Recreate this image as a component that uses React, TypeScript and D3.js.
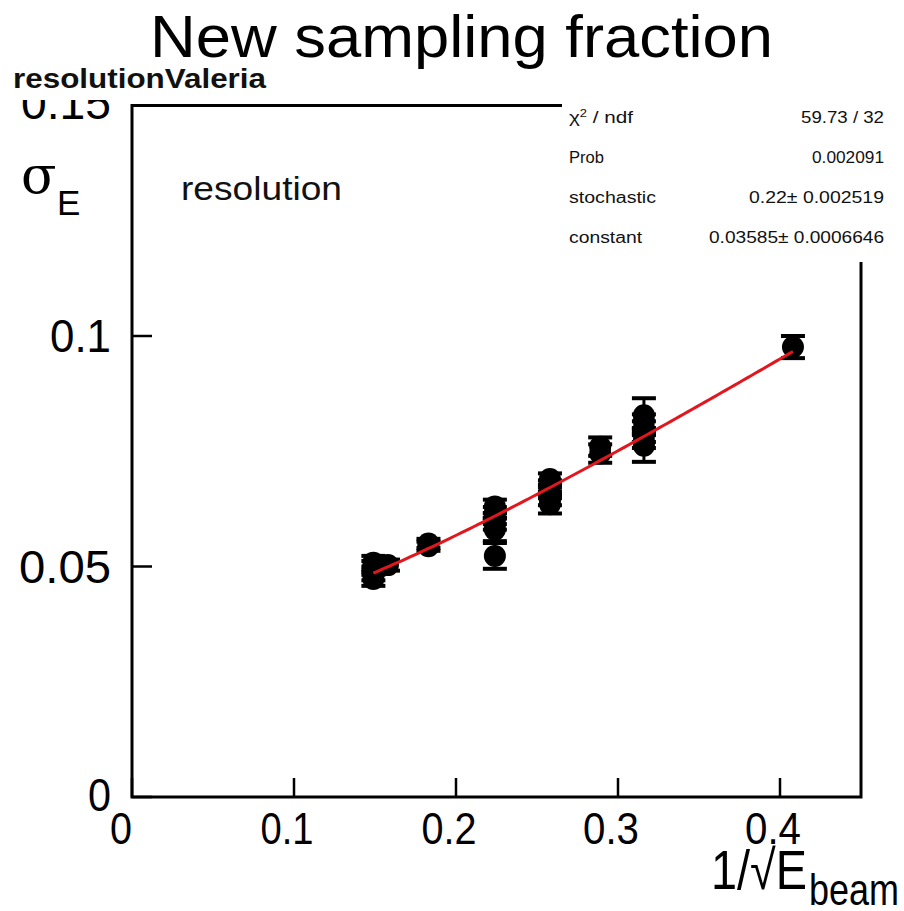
import React from "react";
import * as d3 from "d3";

// ---- data ----
const pointX = [
  0.149, 0.149, 0.149, 0.149, 0.158,
  0.183, 0.183,
  0.224, 0.224, 0.224, 0.224, 0.224, 0.224,
  0.258, 0.258, 0.258, 0.258, 0.258,
  0.289, 0.289,
  0.316, 0.316, 0.316, 0.316, 0.316, 0.316,
  0.408,
];
const pointY = [
  0.0508, 0.0497, 0.0485, 0.0473, 0.0503,
  0.055, 0.0544,
  0.063, 0.0617, 0.0604, 0.0592, 0.058, 0.0523,
  0.069, 0.0675, 0.066, 0.0645, 0.0635,
  0.076, 0.0745,
  0.0828, 0.0815, 0.08, 0.0785, 0.0772, 0.0762,
  0.0976,
];
const pointErr = [
  0.0015, 0.0015, 0.0015, 0.0015, 0.0012,
  0.001, 0.001,
  0.0015, 0.0012, 0.0012, 0.0012, 0.0025, 0.0028,
  0.0012, 0.0012, 0.0012, 0.0012, 0.002,
  0.002, 0.002,
  0.0037, 0.0015, 0.0015, 0.0015, 0.0015, 0.0035,
  0.0024,
];

// fit parameters (from the stats box)
const fitStochastic = 0.22;
const fitConstant = 0.03585;
const fitRange = [0.149, 0.408];

const xTicks = [0, 0.1, 0.2, 0.3, 0.4];
const xTickLabels = ["0", "0.1", "0.2", "0.3", "0.4"];
const yTicks = [0, 0.05, 0.1, 0.15];
const yTickLabels = ["0", "0.05", "0.1", "0.15"];

const statLabels = ["χ² / ndf", "Prob", "stochastic", "constant"];
const statValues = ["59.73 / 32", "0.002091", "0.22± 0.002519", "0.03585± 0.0006646"];

const SANS = "'Liberation Sans', Arial, Helvetica, sans-serif";

export default function App() {
  const W = 904;
  const H = 911;
  const x = d3.scaleLinear().domain([0, 0.45]).range([132, 861]);
  const y = d3.scaleLinear().domain([0, 0.15]).range([797, 105.5]);

  const fitFn = (v: number) => Math.sqrt((fitStochastic * v) ** 2 + fitConstant ** 2);
  const fitXs = d3.range(0, 101).map((i) => fitRange[0] + ((fitRange[1] - fitRange[0]) * i) / 100);
  const fitPath = d3
    .line<number>()
    .x((v) => x(v))
    .y((v) => y(fitFn(v)))(fitXs) as string;

  const xLabelWidths = [22, 53, 55, 56, 56];
  const yLabelWidths = [23, 92, 61, 90];
  const yLabelDy = [14, 16, 16, 13];
  const statLabelW = [64, 35, 87, 73];
  const statValueW = [83, 72, 135, 175];

  return (
    <svg
      width={W}
      height={H}
      style={{ position: "fixed", left: 0, top: 0, background: "#fff" }}
      xmlns="http://www.w3.org/2000/svg"
    >
      <rect x={0} y={0} width={W} height={H} fill="#fff" />

      {/* y tick labels */}
      {yTicks.map((t, i) => (
        <text
          key={"yl" + i}
          x={111}
          y={y(t) + yLabelDy[i]}
          textAnchor="end"
          fontFamily={SANS}
          fontSize={47}
          textLength={yLabelWidths[i]}
          lengthAdjust="spacingAndGlyphs"
          fill="#000"
        >
          {yTickLabels[i]}
        </text>
      ))}
      {/* white band hiding the top of the 0.15 label */}
      <rect x={0} y={0} width={130} height={100} fill="#fff" />

      {/* main title */}
      <text
        x={150}
        y={57}
        fontFamily={SANS}
        fontSize={60}
        textLength={623}
        lengthAdjust="spacingAndGlyphs"
        fill="#000"
      >
        New sampling fraction
      </text>

      {/* histogram name */}
      <text
        x={13}
        y={88}
        fontFamily={SANS}
        fontWeight="bold"
        fontSize={28}
        textLength={253}
        lengthAdjust="spacingAndGlyphs"
        fill="#111"
      >
        resolutionValeria
      </text>

      {/* frame */}
      <rect
        x={x(0)}
        y={y(0.15)}
        width={x(0.45) - x(0)}
        height={y(0) - y(0.15)}
        fill="none"
        stroke="#000"
        strokeWidth={3}
      />

      {/* x ticks */}
      {xTicks.map((t, i) => (
        <line key={"xt" + i} x1={x(t)} x2={x(t)} y1={y(0)} y2={y(0) - 19} stroke="#000" strokeWidth={2.5} />
      ))}
      {/* y ticks */}
      {yTicks.map((t, i) => (
        <line key={"yt" + i} x1={x(0)} x2={x(0) + 20} y1={y(t)} y2={y(t)} stroke="#000" strokeWidth={2.5} />
      ))}

      {/* x tick labels */}
      {xTicks.map((t, i) => (
        <text
          key={"xl" + i}
          x={x(t) - (i === 0 ? 11 : 7)}
          y={844}
          textAnchor="middle"
          fontFamily={SANS}
          fontSize={44}
          textLength={xLabelWidths[i]}
          lengthAdjust="spacingAndGlyphs"
          fill="#000"
        >
          {xTickLabels[i]}
        </text>
      ))}

      {/* y axis title sigma_E */}
      <text
        x={21}
        y={193}
        fontFamily="'DejaVu Serif', 'Liberation Serif', serif"
        fontSize={52}
        fill="#000"
      >
        σ
      </text>
      <text x={57} y={215} fontFamily={SANS} fontSize={35} fill="#000">
        E
      </text>

      {/* x axis title 1/sqrt(E_beam) */}
      <text
        x={711}
        y={889}
        fontFamily={SANS}
        fontSize={55}
        textLength={96}
        lengthAdjust="spacingAndGlyphs"
        fill="#000"
      >
        1/√E
      </text>
      <text
        x={809}
        y={905}
        fontFamily={SANS}
        fontSize={44}
        textLength={90}
        lengthAdjust="spacingAndGlyphs"
        fill="#000"
      >
        beam
      </text>

      {/* "resolution" label inside plot */}
      <text
        x={181}
        y={200}
        fontFamily={SANS}
        fontSize={34}
        textLength={161}
        lengthAdjust="spacingAndGlyphs"
        fill="#111"
      >
        resolution
      </text>

      {/* error bars and markers */}
      {pointX.map((px, i) => {
        const cx = x(px);
        const top = y(pointY[i] + pointErr[i]);
        const bot = y(pointY[i] - pointErr[i]);
        return (
          <g key={"p" + i}>
            <line x1={cx} x2={cx} y1={top} y2={bot} stroke="#000" strokeWidth={3} />
            <line x1={cx - 12} x2={cx + 12} y1={top} y2={top} stroke="#000" strokeWidth={4} />
            <line x1={cx - 12} x2={cx + 12} y1={bot} y2={bot} stroke="#000" strokeWidth={4} />
            <circle cx={cx} cy={y(pointY[i])} r={11} fill="#000" />
          </g>
        );
      })}

      {/* fit curve */}
      <path d={fitPath} fill="none" stroke="#e3161d" strokeWidth={3} />

      {/* stats box (white, borderless) */}
      <rect x={562} y={92} width={W - 562} height={170} fill="#fff" />
      {statLabels.map((s, i) => (
        <g key={"st" + i}>
          <text
            x={569}
            y={123 + i * 40}
            fontFamily={SANS}
            fontSize={16}
            textLength={statLabelW[i]}
            lengthAdjust="spacingAndGlyphs"
            fill="#111"
          >
            {i === 0 ? (
              <>
                χ<tspan dy={-6} fontSize={10}>2</tspan>
                <tspan dy={6}> / ndf</tspan>
              </>
            ) : (
              s
            )}
          </text>
          <text
            x={884}
            y={123 + i * 40}
            textAnchor="end"
            fontFamily={SANS}
            fontSize={16}
            textLength={statValueW[i]}
            lengthAdjust="spacingAndGlyphs"
            fill="#111"
          >
            {statValues[i]}
          </text>
        </g>
      ))}
    </svg>
  );
}
